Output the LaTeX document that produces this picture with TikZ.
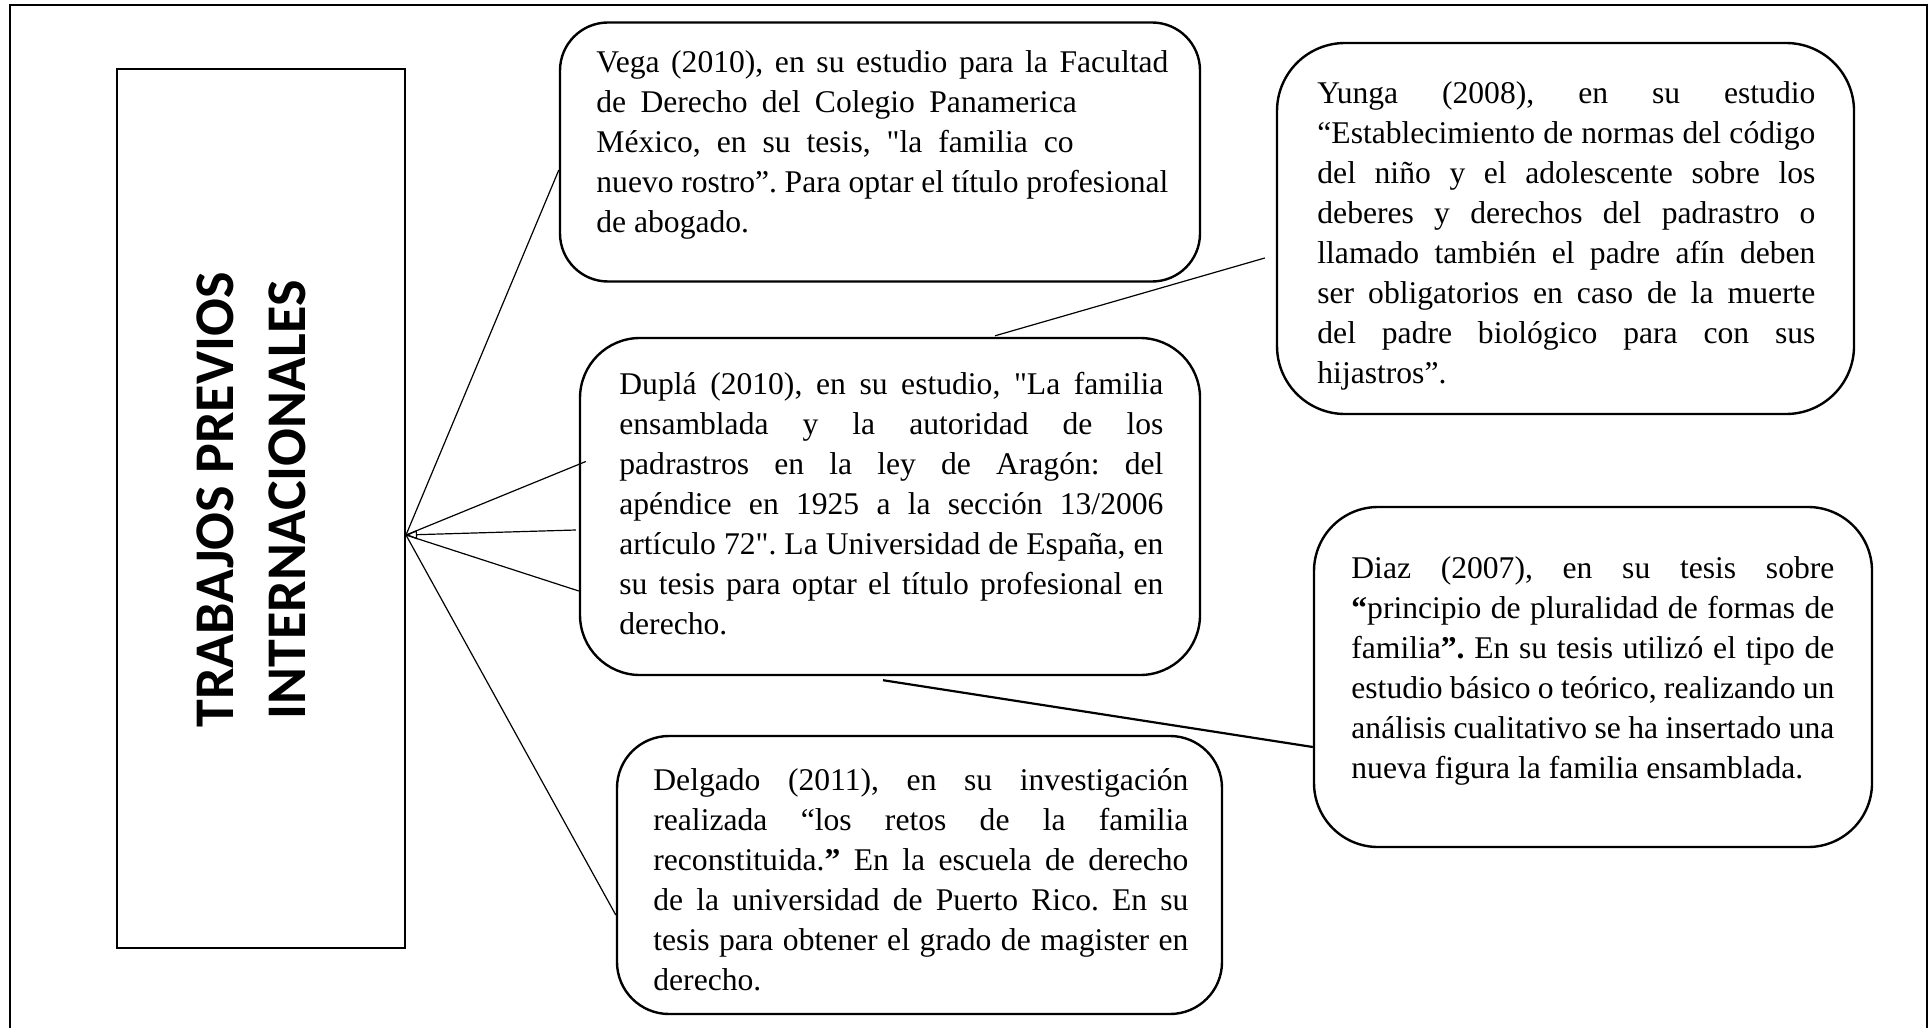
\documentclass[tikz,border=0pt]{standalone}
\usepackage{fontspec}
\setmainfont{Liberation Serif}
\newfontfamily\titlefont{Carlito}
\usetikzlibrary{arrows.meta}
\newcommand\sq{\XeTeXglyph\XeTeXcharglyph"22\relax}

\begin{document}
\frenchspacing
\begin{tikzpicture}[x=0.5pt,y=-0.5pt,
    box/.style={draw,line width=1.2pt,inner sep=0pt},
    txt/.style={anchor=north west,inner sep=0pt,align=justify,font=\fontsize{15.8}{20}\selectfont},
    link/.style={line width=0.6pt}]
    \useasboundingbox (0,0) rectangle (1930,1027);
    % marco
    \draw[line width=1pt] (10,1040) -- (10,5) -- (1927,5) -- (1927,1040);

    \node[draw,line width=1pt,minimum width=144pt,minimum height=439.5pt] (title) at (261,508.5) {};
    \node[rotate=90,align=center,font=\titlefont\bfseries\fontsize{28}{36}\selectfont] (titletxt) at (251,500) {TRABAJOS PREVIOS\\INTERNACIONALES};

    \node[box,rounded corners=24pt,minimum width=320pt,minimum height=129.5pt] (vega) at (880,152) {};
    \node[txt,text width=286pt] (vegatxt) at (596,44) {\strut Vega (2010), en su estudio para la Facultad\linebreak
        de Derecho del Colegio Panamerica\hspace*{2.9em}\null\linebreak
        México, en su tesis, \sq la familia co\hspace*{3em}\null\linebreak
        nuevo rostro”. Para optar el título profesional\linebreak
        de abogado.};

    \node[box,rounded corners=34pt,minimum width=288.5pt,minimum height=185.5pt] (yunga) at (1565.5,228.5) {};
    \node[txt,text width=249pt] (yungatxt) at (1317,75) {\strut Yunga (2008), en su estudio\linebreak
        “Establecimiento de normas del código\linebreak
        del niño y el adolescente sobre los\linebreak
        deberes y derechos del padrastro o\linebreak
        llamado también el padre afín deben\linebreak
        ser obligatorios en caso de la muerte\linebreak
        del padre biológico para con sus\linebreak
        hijastros”.};

    \node[box,rounded corners=30pt,minimum width=310pt,minimum height=168.5pt] (dupla) at (890,506.5) {};
    \node[txt,text width=272pt] (duplatxt) at (619,366) {\strut Duplá (2010), en su estudio, \sq La familia\linebreak
        ensamblada y la autoridad de los\linebreak
        padrastros en la ley de Aragón: del\linebreak
        apéndice en 1925 a la sección 13/2006\linebreak
        artículo 72\sq. La Universidad de España, en\linebreak
        su tesis para optar el título profesional en\linebreak
        derecho.};

    \node[box,rounded corners=32pt,minimum width=279pt,minimum height=170pt] (diaz) at (1593,677) {};
    \node[txt,text width=241.5pt] (diaztxt) at (1351,550) {\strut Diaz (2007), en su tesis sobre\linebreak
        \textbf{“}principio de pluralidad de formas de\linebreak
        familia\textbf{”.} En su tesis utilizó el tipo de\linebreak
        estudio básico o teórico, realizando un\linebreak
        análisis cualitativo se ha insertado una\linebreak
        nueva figura la familia ensamblada.};

    \node[box,rounded corners=26pt,minimum width=302.5pt,minimum height=139pt] (delgado) at (919.5,875) {};
    \node[txt,text width=267.5pt] (delgadotxt) at (653,762) {\strut Delgado (2011), en su investigación\linebreak
        realizada “los retos de la familia\linebreak
        reconstituida.\textbf{”} En la escuela de derecho\linebreak
        de la universidad de Puerto Rico. En su\linebreak
        tesis para obtener el grado de magister en\linebreak
        derecho.};

    % conectores
    \coordinate (hub) at ([shift={(0,26.5)}]title.east);
    \draw[link] (hub) -- ([shift={(0,18)}]vega.west);
    \draw[link] (hub) -- ([shift={(7,-45)}]dupla.west);
    \draw[link,{Triangle[open,length=5.5pt,width=4.5pt]}-] (hub) -- ([shift={(-3,23.5)}]dupla.west);
    \draw[link] (hub) -- ([shift={(0,84.5)}]dupla.west);
    \draw[link] (hub) -- ([shift={(0,40)}]delgado.west);
    \draw[link] ([shift={(105,-1)}]dupla.north) -- ([shift={(-11,29.5)}]yunga.west);
    \draw[line width=1.1pt] ([shift={(-7,4)}]dupla.south) -- ([shift={(0,70)}]diaz.west);
\end{tikzpicture}
\end{document}
